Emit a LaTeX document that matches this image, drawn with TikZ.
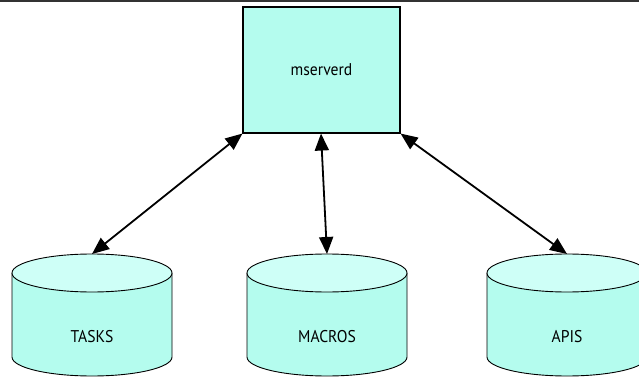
\documentclass[tikz,border=0pt]{standalone}
\usepackage{fontspec}
\setmainfont{PT Sans}
\usetikzlibrary{arrows.meta}
\definecolor{boxfill}{RGB}{180,252,238}
\definecolor{cyltop}{RGB}{206,255,247}
\definecolor{cylbody}{RGB}{180,252,238}
\begin{document}
\begin{tikzpicture}[x=1pt,y=-1pt,
  procbox/.style={draw=black, line width=1.1pt, fill=boxfill, minimum width=157pt, minimum height=126pt, inner sep=0pt, font=\fontsize{17}{20}\selectfont},
  lbl/.style={inner sep=1pt, font=\fontsize{17}{20}\selectfont},
  link/.style={line width=1.8pt, black, {Triangle[length=17pt,width=14pt]}-{Triangle[length=17pt,width=14pt]}}]
\useasboundingbox (0,0) rectangle (639,379);
\draw[line width=1.6pt, black!80] (0,0.8) -- (639,0.8);
\node[procbox] (mserverd) at (321.5,70) {\scalebox{0.92}[1]{mserverd}};
\foreach \cx/\nm/\tx in {92/tasks/TASKS, 327/macros/MACROS, 567/apis/APIS}{
  \fill[cylbody] (\cx-80,273) -- (\cx-80,357) arc[start angle=180,end angle=360,x radius=80pt,y radius=19pt] -- (\cx+80,273) -- cycle;
  \draw[line width=0.9pt] (\cx-80,273) -- (\cx-80,357) arc[start angle=180,end angle=360,x radius=80pt,y radius=19pt] -- (\cx+80,273);
  \draw[line width=0.9pt, fill=cyltop] (\cx,273) ellipse[x radius=80pt,y radius=19pt];
  \coordinate (\nm-top) at (\cx,254);
  \node[lbl] (\nm) at (\cx,337) {\scalebox{0.92}[1]{\tx}};
}
\draw[link] (mserverd.south west) -- (tasks-top);
\draw[link] ([xshift=-0.5pt]mserverd.south) -- (macros-top);
\draw[link] (mserverd.south east) -- (apis-top);
\end{tikzpicture}
\end{document}
